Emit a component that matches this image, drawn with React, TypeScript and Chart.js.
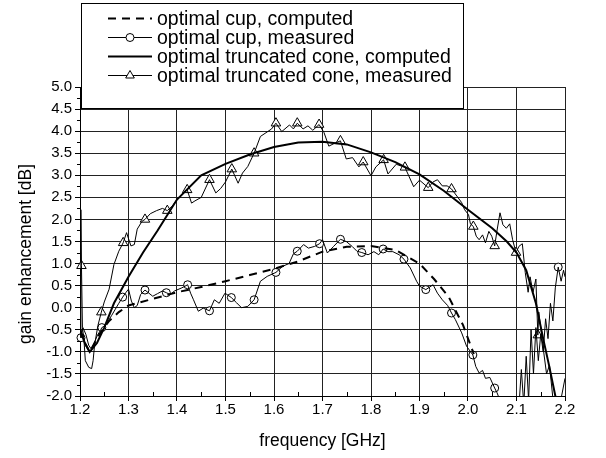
import React, { useEffect, useRef } from "react";
import { Chart, registerables } from "chart.js";

Chart.register(...registerables);

const FONT = "'Liberation Sans', Arial, Helvetica, sans-serif";

// ---------- axis / labels ----------
const xTicks = [1.2, 1.3, 1.4, 1.5, 1.6, 1.7, 1.8, 1.9, 2.0, 2.1, 2.2];
const yTicks = [-2.0, -1.5, -1.0, -0.5, 0.0, 0.5, 1.0, 1.5, 2.0, 2.5, 3.0, 3.5, 4.0, 4.5, 5.0];
const xMinorTicks = [1.25, 1.35, 1.45, 1.55, 1.65, 1.75, 1.85, 1.95, 2.05, 2.15];
const yMinorTicks = [-1.75, -1.25, -0.75, -0.25, 0.25, 0.75, 1.25, 1.75, 2.25, 2.75, 3.25, 3.75, 4.25, 4.75];
const xTitle = "frequency [GHz]";
const yTitle = "gain enhancement [dB]";
const legendLabels = [
  "optimal cup, computed",
  "optimal cup, measured",
  "optimal truncated cone, computed",
  "optimal truncated cone, measured",
];

// ---------- optimal cup, computed ----------
const cupComputedX = [1.2, 1.21, 1.22, 1.24, 1.26, 1.28, 1.3, 1.35, 1.4, 1.45, 1.5, 1.55, 1.6, 1.65, 1.7, 1.75, 1.8, 1.85, 1.9, 1.93, 1.96, 1.99, 2.012];
const cupComputedY = [-0.5, -0.8, -1.0, -0.6, -0.3, -0.1, 0.05, 0.2, 0.35, 0.47, 0.6, 0.74, 0.88, 1.05, 1.27, 1.38, 1.4, 1.31, 1.0, 0.65, 0.25, -0.4, -1.05];

// ---------- optimal truncated cone, computed ----------
const coneComputedX = [1.2, 1.21, 1.22, 1.235, 1.25, 1.27, 1.3, 1.33, 1.36, 1.4, 1.45, 1.5, 1.55, 1.6, 1.65, 1.7, 1.75, 1.8, 1.85, 1.9, 1.95, 2.0, 2.05, 2.08, 2.1, 2.12, 2.14, 2.155, 2.167, 2.182];
const coneComputedY = [-0.5, -0.8, -1.0, -0.8, -0.45, 0.1, 0.7, 1.25, 1.75, 2.45, 3.0, 3.26, 3.47, 3.64, 3.74, 3.76, 3.7, 3.52, 3.3, 3.02, 2.65, 2.22, 1.8, 1.5, 1.25, 0.85, 0.1, -0.7, -1.3, -2.1];

// ---------- optimal cup, measured ----------
const cupMeasuredX = [1.2, 1.206, 1.212, 1.218, 1.224, 1.23, 1.236, 1.242, 1.25, 1.258, 1.265, 1.272, 1.28, 1.295, 1.3, 1.306, 1.312, 1.318, 1.325, 1.342, 1.35, 1.36, 1.37, 1.386, 1.395, 1.41, 1.428, 1.434, 1.444, 1.454, 1.477, 1.487, 1.499, 1.523, 1.533, 1.546, 1.572, 1.586, 1.618, 1.631, 1.64, 1.661, 1.671, 1.684, 1.7, 1.71, 1.723, 1.749, 1.761, 1.771, 1.794, 1.806, 1.816, 1.835, 1.845, 1.858, 1.881, 1.894, 1.9, 1.928, 1.937, 1.947, 1.958, 1.974, 1.987, 1.997, 2.016, 2.023, 2.03, 2.036, 2.045, 2.06, 2.066, 2.08, 2.095, 2.105, 2.11, 2.115, 2.12, 2.125, 2.13, 2.135, 2.14, 2.145, 2.15, 2.155, 2.16, 2.165, 2.17, 2.175, 2.18, 2.192, 2.197, 2.2];
const cupMeasuredY = [-0.5, -0.45, -0.6, -0.85, -0.95, -0.78, -0.62, -0.52, -0.42, -0.3, -0.18, -0.05, 0.1, 0.35, 0.42, 0.15, 0.0, 0.05, 0.3, 0.33, 0.26, 0.32, 0.38, 0.3, 0.38, 0.45, 0.33, 0.18, -0.08, -0.01, 0.18, 0.1, 0.33, 0.11, 0.0, 0.03, 0.6, 0.71, 0.94, 1.0, 1.22, 1.43, 1.35, 1.39, 1.54, 1.24, 1.39, 1.5, 1.39, 1.28, 1.2, 1.27, 1.2, 1.27, 1.27, 1.2, 0.9, 0.6, 0.49, 0.52, 0.33, 0.18, 0.05, -0.27, -0.57, -0.87, -1.33, -1.48, -1.42, -1.6, -1.58, -1.93, -2.1, -2.3, -2.2, -2.25, -1.4, -2.2, -1.1, -2.1, -0.5, -1.5, -0.45, -1.2, -0.6, -1.0, -0.25, -0.7, 0.1, -0.3, 0.45, 0.6, 0.85, 0.7];
const cupMarkerX = [1.202, 1.245, 1.288, 1.334, 1.378, 1.422, 1.467, 1.512, 1.559, 1.604, 1.648, 1.694, 1.737, 1.781, 1.825, 1.868, 1.913, 1.966, 2.01, 2.055, 2.186];
const cupMarkerY = [-0.68, -0.45, 0.24, 0.4, 0.34, 0.52, -0.07, 0.23, 0.18, 0.8, 1.28, 1.45, 1.55, 1.25, 1.33, 1.1, 0.41, -0.12, -1.07, -1.82, 0.92];

// ---------- optimal truncated cone, measured ----------
const coneMeasuredX = [1.2, 1.2018, 1.205, 1.208, 1.211, 1.218, 1.224, 1.227, 1.23, 1.237, 1.25, 1.26, 1.27, 1.28, 1.296, 1.305, 1.312, 1.318, 1.328, 1.345, 1.358, 1.37, 1.39, 1.4, 1.41, 1.43, 1.437, 1.45, 1.48, 1.49, 1.5, 1.526, 1.535, 1.546, 1.572, 1.587, 1.595, 1.616, 1.632, 1.64, 1.66, 1.67, 1.68, 1.703, 1.713, 1.726, 1.749, 1.762, 1.775, 1.8, 1.81, 1.835, 1.852, 1.888, 1.9, 1.928, 1.937, 1.947, 1.957, 1.977, 1.987, 1.993, 2.001, 2.005, 2.017, 2.023, 2.03, 2.036, 2.043, 2.049, 2.06, 2.066, 2.072, 2.079, 2.086, 2.092, 2.105, 2.112, 2.118, 2.124, 2.128, 2.134, 2.14, 2.146, 2.156, 2.162, 2.168, 2.175, 2.185, 2.193, 2.2];
const coneMeasuredY = [-0.5, 2.22, -0.45, -0.7, -1.2, -1.35, -1.38, -1.2, -0.85, -0.4, 0.13, 0.42, 0.98, 1.28, 1.7, 1.4, 1.43, 1.78, 1.96, 2.13, 2.2, 2.25, 2.3, 2.45, 2.55, 2.37, 2.42, 2.5, 2.6, 2.7, 2.85, 2.82, 3.05, 3.2, 3.88, 3.99, 4.05, 3.99, 4.14, 4.05, 4.05, 4.12, 4.02, 3.97, 3.66, 3.73, 3.37, 3.4, 3.19, 2.99, 3.19, 3.03, 3.25, 2.74, 2.89, 2.85, 2.9, 2.76, 2.76, 2.53, 2.38, 2.22, 2.11, 1.9, 1.62, 1.54, 1.65, 1.47, 1.73, 1.62, 1.76, 2.15, 1.88, 1.8, 1.9, 1.54, 1.39, 1.45, 0.8, 0.35, 0.7, 0.35, 0.65, -0.1, -1.0, -1.5, -1.3, -2.05, -2.2, -2.0, -1.6];
const coneMarkerX = [1.203, 1.244, 1.289, 1.334, 1.38, 1.421, 1.467, 1.513, 1.559, 1.604, 1.648, 1.693, 1.737, 1.784, 1.826, 1.87, 1.918, 1.966, 2.011, 2.055, 2.099, 2.144];
const coneMarkerY = [0.95, -0.1, 1.47, 2.0, 2.2, 2.67, 2.9, 3.14, 3.5, 4.18, 4.18, 4.15, 3.78, 3.3, 3.35, 3.18, 2.72, 2.69, 1.84, 1.4, 1.25, -0.62];

// ---------- helpers ----------
type P = { x: number; y: number };
const pts = (xs: number[], ys: number[]): P[] => xs.map((x, i) => ({ x, y: ys[i] }));
const merged = (a: P[], b: P[]): P[] => [...a, ...b].sort((p, q) => p.x - q.x);

const decorPlugin = {
  id: "decor",
  afterDraw(chart: any) {
    const { ctx, chartArea } = chart;
    const xs = chart.scales.x;
    const ys = chart.scales.y;
    ctx.save();
    // minor ticks
    ctx.strokeStyle = "#000";
    ctx.lineWidth = 1;
    ctx.beginPath();
    yMinorTicks.forEach((v) => {
      const p = Math.round(ys.getPixelForValue(v)) + 0.5;
      ctx.moveTo(chartArea.left - 3, p);
      ctx.lineTo(chartArea.left, p);
    });
    xMinorTicks.forEach((v) => {
      const p = Math.round(xs.getPixelForValue(v)) + 0.5;
      ctx.moveTo(p, chartArea.bottom);
      ctx.lineTo(p, chartArea.bottom - 4);
    });
    ctx.stroke();

    // axis titles
    ctx.fillStyle = "#000";
    ctx.font = `17.5px ${FONT}`;
    ctx.textAlign = "center";
    ctx.textBaseline = "middle";
    ctx.fillText(xTitle, (chartArea.left + chartArea.right) / 2, 441);
    ctx.save();
    ctx.translate(26, 254);
    ctx.rotate(-Math.PI / 2);
    ctx.fillText(yTitle, 0, 0);
    ctx.restore();

    // legend
    const L = 81, T = 3, R = 463, B = 108;
    ctx.fillStyle = "#fff";
    ctx.fillRect(L, T, R - L, B - T);
    ctx.strokeStyle = "#000";
    ctx.lineWidth = 1;
    ctx.strokeRect(L + 0.5, T + 0.5, R - L, B - T);
    const rowY = [18.5, 37.5, 56.5, 75.5];
    const x0 = 108, x1 = 152, xm = 130;
    rowY.forEach((y, i) => {
      ctx.save();
      ctx.strokeStyle = "#000";
      ctx.beginPath();
      if (i === 0) {
        ctx.lineWidth = 2;
        ctx.setLineDash([8, 6]);
      } else if (i === 2) {
        ctx.lineWidth = 2;
      } else {
        ctx.lineWidth = 1;
      }
      ctx.moveTo(x0, y);
      ctx.lineTo(x1, y);
      ctx.stroke();
      ctx.setLineDash([]);
      ctx.lineWidth = 1;
      if (i === 1) {
        ctx.beginPath();
        ctx.arc(xm, y, 4, 0, Math.PI * 2);
        ctx.fillStyle = "#fff";
        ctx.fill();
        ctx.stroke();
      } else if (i === 3) {
        const r = 5;
        ctx.beginPath();
        ctx.moveTo(xm, y - r);
        ctx.lineTo(xm + r * 0.866, y + r * 0.5);
        ctx.lineTo(xm - r * 0.866, y + r * 0.5);
        ctx.closePath();
        ctx.fillStyle = "#fff";
        ctx.fill();
        ctx.stroke();
      }
      ctx.restore();
      ctx.fillStyle = "#000";
      ctx.font = `19.5px ${FONT}`;
      ctx.textAlign = "left";
      ctx.textBaseline = "middle";
      ctx.fillText(legendLabels[i], 157, y + 1);
    });
    ctx.restore();
  },
};

export default function App() {
  const ref = useRef<HTMLCanvasElement | null>(null);
  useEffect(() => {
    if (!ref.current) return;
    const lineBase = { showLine: true, pointRadius: 0, fill: false, tension: 0, clip: 0, borderColor: "#000" };
    const markerBase = {
      showLine: false,
      pointRadius: 4,
      pointBackgroundColor: "#fff",
      pointBorderColor: "#000",
      pointBorderWidth: 1,
      clip: false,
    };
    const cupM = pts(cupMarkerX, cupMarkerY);
    const coneM = pts(coneMarkerX, coneMarkerY);
    const chart = new Chart(ref.current, {
      type: "scatter",
      data: {
        datasets: [
          { ...lineBase, label: legendLabels[0], data: pts(cupComputedX, cupComputedY), borderWidth: 2, borderDash: [8, 6] },
          { ...lineBase, label: legendLabels[1], data: merged(pts(cupMeasuredX, cupMeasuredY), cupM), borderWidth: 1 },
          { ...lineBase, label: legendLabels[2], data: pts(coneComputedX, coneComputedY), borderWidth: 2 },
          { ...lineBase, label: legendLabels[3], data: merged(pts(coneMeasuredX, coneMeasuredY), coneM), borderWidth: 1 },
          { ...markerBase, label: "cup markers", data: cupM, pointStyle: "circle", pointRadius: 4 },
          { ...markerBase, label: "cone markers", data: coneM, pointStyle: "triangle", pointRadius: 5.5 },
        ] as any,
      },
      options: {
        animation: false,
        responsive: false,
        devicePixelRatio: 1,
        layout: { padding: { top: 87, right: 41, left: 0, bottom: 0 } },
        plugins: { legend: { display: false }, tooltip: { enabled: false }, title: { display: false } },
        scales: {
          x: {
            type: "linear",
            min: 1.2,
            max: 2.2,
            afterBuildTicks: (s: any) => {
              s.ticks = xTicks.map((v) => ({ value: v }));
            },
            afterFit: (s: any) => {
              s.height = 62;
            },
            ticks: {
              autoSkip: false,
              maxRotation: 0,
              padding: 0,
              color: "#000",
              font: { family: FONT, size: 15 },
              callback: (v: any) => Number(v).toFixed(1),
            },
            grid: { color: "#222", lineWidth: 1, tickLength: 5, tickColor: "#000" },
            border: { color: "#000", width: 1 },
          },
          y: {
            type: "linear",
            min: -2,
            max: 5,
            afterBuildTicks: (s: any) => {
              s.ticks = yTicks.map((v) => ({ value: v }));
            },
            afterFit: (s: any) => {
              s.width = 80;
            },
            ticks: {
              autoSkip: false,
              padding: 3,
              color: "#000",
              font: { family: FONT, size: 15 },
              callback: (v: any) => Number(v).toFixed(1),
            },
            grid: { color: "#222", lineWidth: 1, tickLength: 5, tickColor: "#000" },
            border: { color: "#000", width: 1 },
          },
        },
      } as any,
      plugins: [decorPlugin],
    });
    return () => chart.destroy();
  }, []);
  return (
    <div style={{ position: "fixed", left: 0, top: 0, width: 606, height: 458, background: "#fff" }}>
      <canvas ref={ref} width={606} height={458} style={{ width: 606, height: 458, display: "block" }} />
    </div>
  );
}
